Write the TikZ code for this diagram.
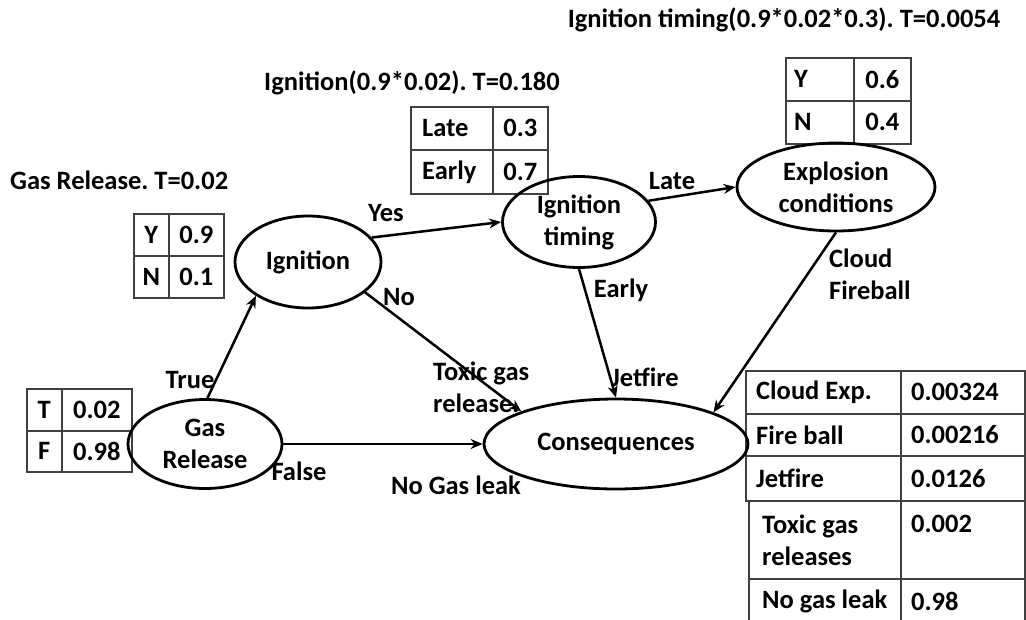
\documentclass[tikz,border=0pt]{standalone}
\usepackage{fontspec}
\setmainfont{Carlito}
\usetikzlibrary{shapes.geometric,arrows.meta}
\begin{document}
\frenchspacing
\begin{tikzpicture}[x=1pt,y=-1pt,
  every node/.style={font=\fontsize{26.5}{32}\selectfont\bfseries},
  ell/.style={ellipse,draw,line width=2.8pt,inner sep=0pt,align=center},
  arr/.style={line width=2.5pt,-{Stealth[length=12pt,width=10pt]}},
  lbl/.style={inner sep=0pt},
  cc/.style n args={2}{draw=black!75,line width=1.6pt,rectangle,anchor=north west,
     inner sep=0pt,minimum width=#1,minimum height=#2,align=center},
  cellL/.style={inner sep=0pt,anchor=west,align=left},
  ]
\useasboundingbox (0,0) rectangle (1026,619);

% titles
\node[lbl,anchor=west] (t1) at (10,180) {Gas Release. T=0.02};
\node[lbl] (t2) at (412,83) {Ignition(0.9*0.02). T=0.180};
\node[lbl] (t3) at (784,20) {Ignition timing(0.9*0.02*0.3). T=0.0054};

% tables
\node[cc={35pt}{42pt}] (a1) at (133,213) {Y};
\node[cc={55pt}{42pt}] (a2) at (168,213) {0.9};
\node[cc={35pt}{42pt}] (a3) at (133,255) {N};
\node[cc={55pt}{42pt}] (a4) at (168,255) {0.1};

\node[cc={35pt}{42pt}] (b1) at (26,388) {T};
\node[cc={70pt}{42pt}] (b2) at (61,388) {0.02};
\node[cc={35pt}{41pt}] (b3) at (26,430) {F};
\node[cc={70pt}{41pt}] (b4) at (61,430) {0.98};

\node[cc={82pt}{43pt}] (c1) at (410,106) {};
\node[cellL] (c1t) at ([xshift=12pt]c1.west) {Late};
\node[cc={55pt}{43pt}] (c2) at (492,106) {0.3};
\node[cc={82pt}{44pt}] (c3) at (410,149) {};
\node[cellL] (c3t) at ([xshift=12pt]c3.west) {Early};
\node[cc={55pt}{44pt}] (c4) at (492,149) {0.7};

\node[cc={68pt}{43pt}] (d1) at (785,57) {};
\node[cellL] (d1t) at ([xshift=9pt]d1.west) {Y};
\node[cc={57pt}{43pt}] (d2) at (853,57) {0.6};
\node[cc={68pt}{43pt}] (d3) at (785,100) {};
\node[cellL] (d3t) at ([xshift=9pt]d3.west) {N};
\node[cc={57pt}{43pt}] (d4) at (853,100) {0.4};

\node[cc={155pt}{43pt}] (e1) at (745,370) {};
\node[cellL] (e1t) at ([xshift=11pt]e1.west) {Cloud Exp.};
\node[cc={124pt}{43pt}] (e2) at (900,370) {};
\node[cellL] (e2t) at ([xshift=11pt]e2.west) {0.00324};
\node[cc={155pt}{42pt}] (e3) at (745,413) {};
\node[cellL] (e3t) at ([xshift=11pt]e3.west) {Fire ball};
\node[cc={124pt}{42pt}] (e4) at (900,413) {};
\node[cellL] (e4t) at ([xshift=11pt]e4.west) {0.00216};
\node[cc={155pt}{45pt}] (e5) at (745,455) {};
\node[cellL] (e5t) at ([xshift=11pt]e5.west) {Jetfire};
\node[cc={124pt}{45pt}] (e6) at (900,455) {};
\node[cellL] (e6t) at ([xshift=11pt]e6.west) {0.0126};
\node[cc={152pt}{78pt}] (e7) at (748,500) {};
\node[cellL] (e7t) at ([xshift=14pt]e7.west) {Toxic gas\\releases};
\node[cc={124pt}{78pt}] (e8) at (900,500) {};
\node[cellL] (e8t) at ([xshift=11pt]e8.west) {0.002\\\mbox{}};
\node[cc={152pt}{44pt}] (e9) at (748,578) {};
\node[cellL] (e9t) at ([xshift=14pt,yshift=-1pt]e9.west) {No gas leak};
\node[cc={124pt}{44pt}] (e10) at (900,578) {};
\node[cellL] (e10t) at ([xshift=11pt,yshift=-1pt]e10.west) {0.98};

% ellipses
\node[ell,minimum width=154pt,minimum height=89pt] (gr) at (205,444) {Gas\\Release};
\node[ell,minimum width=146pt,minimum height=92pt] (ign) at (308,262) {Ignition};
\node[ell,minimum width=153pt,minimum height=91pt] (it) at (579,222) {Ignition\\timing};
\node[ell,minimum width=198pt,minimum height=88pt] (ex) at (836,187) {Explosion\\conditions};
\node[ell,minimum width=264pt,minimum height=90pt] (cons) at (616,444) {Consequences};

% connectors
\draw[arr] (gr.87) -- (ign.213);
\draw[arr] (gr.east) -- (cons.west);
\draw[arr] (ign.21) -- (it.west);
\draw[arr] (ign.-28) -- (cons.161);
\draw[arr] (it.south) -- (cons.north);
\draw[arr] (it.17) -- (ex.west);
\draw[arr] (ex.south) -- (cons.18);

% labels
\node[lbl] (lt) at (190,380) {True};
\node[lbl] (lf) at (299,471) {False};
\node[lbl] (ly) at (386,213) {Yes};
\node[lbl] (ln) at (399,297) {No};
\node[lbl,anchor=west,align=left] (ltx) at (433,387) {Toxic gas\\release.};
\node[lbl] (le) at (621,290) {Early};
\node[lbl] (lj) at (645,377) {Jetfire};
\node[lbl] (ll) at (672,181) {Late};
\node[lbl,anchor=west,align=left] (lc) at (829,274) {Cloud\\Fireball};
\node[lbl] (lng) at (456,485) {No Gas leak};
\end{tikzpicture}
\end{document}
